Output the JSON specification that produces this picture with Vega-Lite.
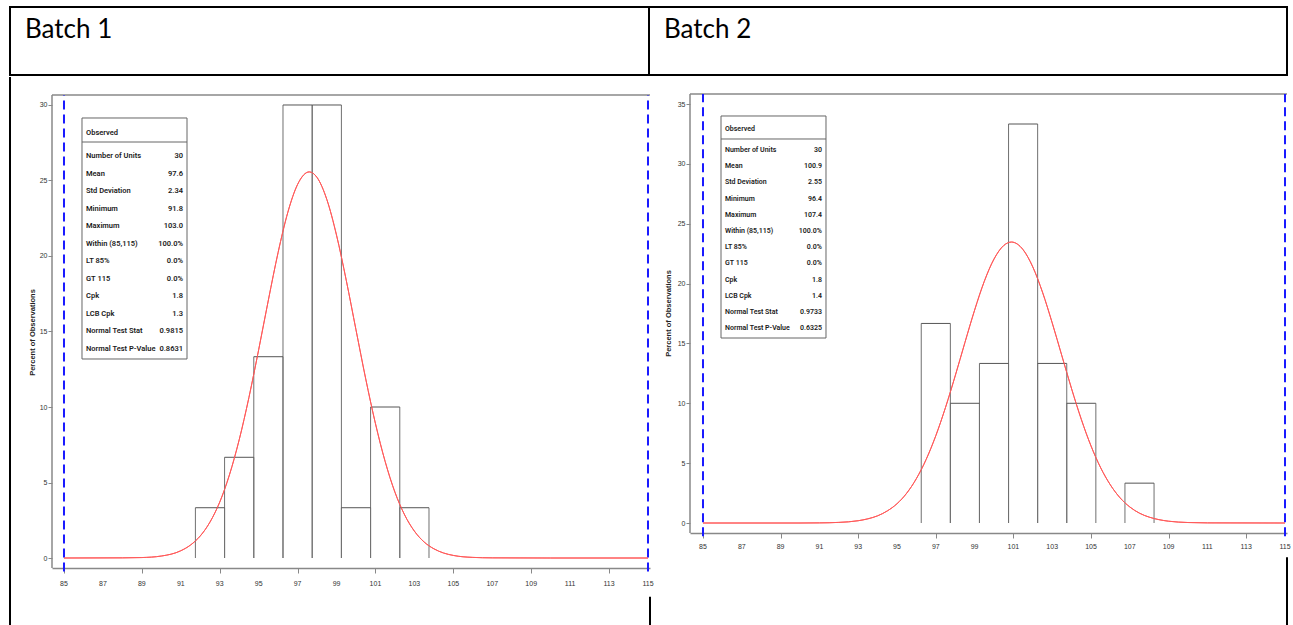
{
  "$schema": "https://vega.github.io/schema/vega-lite/v6.json",
  "padding": {"left": 9, "top": 6, "right": 0, "bottom": 0},
  "autosize": {"type": "pad"},
  "background": "white",
  "bounds": "full",
  "spacing": 0,
  "config": {
    "view": {"stroke": null},
    "axis": {"labelFont": "Liberation Sans", "titleFont": "Liberation Sans", "labelOverlap": false, "labelFlush": false}
  },
  "datasets": {
    "hist1": [
      {"start": 91.75, "end": 93.25, "pct": 3.33},
      {"start": 93.25, "end": 94.75, "pct": 6.67},
      {"start": 94.75, "end": 96.25, "pct": 13.33},
      {"start": 96.25, "end": 97.75, "pct": 30},
      {"start": 97.75, "end": 99.25, "pct": 30},
      {"start": 99.25, "end": 100.75, "pct": 3.33},
      {"start": 100.75, "end": 102.25, "pct": 10},
      {"start": 102.25, "end": 103.75, "pct": 3.33}
    ],
    "hist2": [
      {"start": 96.25, "end": 97.75, "pct": 16.67},
      {"start": 97.75, "end": 99.25, "pct": 10},
      {"start": 99.25, "end": 100.75, "pct": 13.33},
      {"start": 100.75, "end": 102.25, "pct": 33.33},
      {"start": 102.25, "end": 103.75, "pct": 13.33},
      {"start": 103.75, "end": 105.25, "pct": 10},
      {"start": 106.75, "end": 108.25, "pct": 3.33}
    ],
    "curve1": [
      {"x": 85, "y": 0}, {"x": 88, "y": 0.01}, {"x": 89, "y": 0.03}, {"x": 90, "y": 0.13},
      {"x": 91, "y": 0.48}, {"x": 91.5, "y": 0.86}, {"x": 92, "y": 1.46}, {"x": 92.5, "y": 2.38},
      {"x": 93, "y": 3.7}, {"x": 93.5, "y": 5.51}, {"x": 94, "y": 7.83}, {"x": 94.5, "y": 10.63},
      {"x": 95, "y": 13.79}, {"x": 95.5, "y": 17.09}, {"x": 96, "y": 20.24}, {"x": 96.5, "y": 22.9},
      {"x": 97, "y": 24.74}, {"x": 97.6, "y": 25.57}, {"x": 98, "y": 25.2}, {"x": 98.5, "y": 23.75},
      {"x": 99, "y": 21.38}, {"x": 99.5, "y": 18.39}, {"x": 100, "y": 15.11}, {"x": 100.5, "y": 11.86},
      {"x": 101, "y": 8.9}, {"x": 101.5, "y": 6.38}, {"x": 102, "y": 4.36}, {"x": 102.5, "y": 2.85},
      {"x": 103, "y": 1.78}, {"x": 103.5, "y": 1.06}, {"x": 104, "y": 0.61}, {"x": 104.5, "y": 0.33},
      {"x": 105, "y": 0.17}, {"x": 106, "y": 0.04}, {"x": 107, "y": 0.01}, {"x": 110, "y": 0}, {"x": 115, "y": 0}
    ],
    "curve2": [
      {"x": 85, "y": 0}, {"x": 90, "y": 0}, {"x": 91, "y": 0.01}, {"x": 92, "y": 0.05},
      {"x": 93, "y": 0.19}, {"x": 93.5, "y": 0.35}, {"x": 94, "y": 0.6}, {"x": 94.5, "y": 1.01},
      {"x": 95, "y": 1.61}, {"x": 95.5, "y": 2.49}, {"x": 96, "y": 3.71}, {"x": 96.5, "y": 5.3},
      {"x": 97, "y": 7.29}, {"x": 97.5, "y": 9.65}, {"x": 98, "y": 12.29}, {"x": 98.5, "y": 15.07},
      {"x": 99, "y": 17.78}, {"x": 99.5, "y": 20.19}, {"x": 100, "y": 22.05}, {"x": 100.5, "y": 23.18},
      {"x": 100.9, "y": 23.47}, {"x": 101.5, "y": 22.83}, {"x": 102, "y": 21.39}, {"x": 102.5, "y": 19.28},
      {"x": 103, "y": 16.72}, {"x": 103.5, "y": 13.96}, {"x": 104, "y": 11.21}, {"x": 104.5, "y": 8.66},
      {"x": 105, "y": 6.44}, {"x": 105.5, "y": 4.61}, {"x": 106, "y": 3.18}, {"x": 106.5, "y": 2.1},
      {"x": 107, "y": 1.34}, {"x": 107.5, "y": 0.82}, {"x": 108, "y": 0.49}, {"x": 108.5, "y": 0.28},
      {"x": 109, "y": 0.15}, {"x": 110, "y": 0.04}, {"x": 111, "y": 0.01}, {"x": 115, "y": 0}
    ],
    "ticks": [
      {"t": 85}, {"t": 87}, {"t": 89}, {"t": 91}, {"t": 93}, {"t": 95}, {"t": 97}, {"t": 99},
      {"t": 101}, {"t": 103}, {"t": 105}, {"t": 107}, {"t": 109}, {"t": 111}, {"t": 113}, {"t": 115}
    ],
    "limits": [{"limit": 85}, {"limit": 115}],
    "stats1": [
      {"i": 1, "label": "Number of Units", "value": "30"},
      {"i": 2, "label": "Mean", "value": "97.6"},
      {"i": 3, "label": "Std Deviation", "value": "2.34"},
      {"i": 4, "label": "Minimum", "value": "91.8"},
      {"i": 5, "label": "Maximum", "value": "103.0"},
      {"i": 6, "label": "Within (85,115)", "value": "100.0%"},
      {"i": 7, "label": "LT 85%", "value": "0.0%"},
      {"i": 8, "label": "GT 115", "value": "0.0%"},
      {"i": 9, "label": "Cpk", "value": "1.8"},
      {"i": 10, "label": "LCB Cpk", "value": "1.3"},
      {"i": 11, "label": "Normal Test Stat", "value": "0.9815"},
      {"i": 12, "label": "Normal Test P-Value", "value": "0.8631"}
    ],
    "stats2": [
      {"i": 1, "label": "Number of Units", "value": "30"},
      {"i": 2, "label": "Mean", "value": "100.9"},
      {"i": 3, "label": "Std Deviation", "value": "2.55"},
      {"i": 4, "label": "Minimum", "value": "96.4"},
      {"i": 5, "label": "Maximum", "value": "107.4"},
      {"i": 6, "label": "Within (85,115)", "value": "100.0%"},
      {"i": 7, "label": "LT 85%", "value": "0.0%"},
      {"i": 8, "label": "GT 115", "value": "0.0%"},
      {"i": 9, "label": "Cpk", "value": "1.8"},
      {"i": 10, "label": "LCB Cpk", "value": "1.4"},
      {"i": 11, "label": "Normal Test Stat", "value": "0.9733"},
      {"i": 12, "label": "Normal Test P-Value", "value": "0.6325"}
    ]
  },
  "vconcat": [
    {
      "spacing": 0,
      "bounds": "flush",
      "hconcat": [
        {
          "width": 639, "height": 68,
          "view": {"stroke": "black", "strokeWidth": 2},
          "title": {"text": "Batch 1", "anchor": "start", "frame": "group", "font": "Lato", "fontSize": 26, "fontWeight": "normal", "color": "black", "baseline": "alphabetic", "offset": -57, "dx": 15},
          "data": {"values": [{}]},
          "mark": {"type": "point", "opacity": 0}
        },
        {
          "width": 638, "height": 68,
          "view": {"stroke": "black", "strokeWidth": 2},
          "title": {"text": "Batch 2", "anchor": "start", "frame": "group", "font": "Lato", "fontSize": 26, "fontWeight": "normal", "color": "black", "baseline": "alphabetic", "offset": -57, "dx": 15},
          "data": {"values": [{}]},
          "mark": {"type": "point", "opacity": 0}
        }
      ]
    },
    {
      "spacing": 0,
      "bounds": "flush",
      "hconcat": [
        {
          "width": 42, "height": 550,
          "data": {"values": [{}]},
          "mark": {"type": "rule", "color": "black", "strokeWidth": 2},
          "encoding": {"x": {"datum": 0, "type": "quantitative", "scale": {"domain": [0, 1]}, "axis": null}}
        },
        {
          "width": 598, "height": 491,
          "resolve": {"scale": {"y": "independent"}},
          "layer": [
            {
              "layer": [
                {
                  "data": {"name": "curve1"},
                  "mark": {"type": "line", "color": "#ff5a5a", "strokeWidth": 1, "interpolate": "monotone"},
                  "encoding": {
                    "x": {"field": "x", "type": "quantitative", "scale": {"domain": [84.384, 115.103], "nice": false, "zero": false},
                      "axis": {"title": null, "values": [85, 87, 89, 91, 93, 95, 97, 99, 101, 103, 105, 107, 109, 111, 113, 115], "labels": false, "grid": false, "domainColor": "#888", "domainWidth": 1.5, "tickColor": "#888", "tickSize": 5}},
                    "y": {"field": "y", "type": "quantitative", "scale": {"domain": [-0.662, 31.854], "nice": false, "zero": false},
                      "axis": {"title": "Percent of Observations", "values": [0, 5, 10, 15, 20, 25, 30], "labelOverlap": false, "grid": false, "domain": false, "tickColor": "#888", "tickSize": 4, "labelFontSize": 7, "labelColor": "#333", "labelPadding": 1, "titleFontSize": 7.5, "titleFontWeight": "bold", "titleColor": "#222", "titleX": -16, "titleY": 255}}
                  }
                },
                {
                  "data": {"name": "ticks"},
                  "mark": {"type": "text", "font": "Liberation Sans", "fontSize": 7, "color": "#333", "baseline": "middle", "align": "center"},
                  "encoding": {"x": {"field": "t", "type": "quantitative"}, "y": {"datum": -1.722, "type": "quantitative"}, "text": {"field": "t", "type": "quantitative"}}
                },
                {
                  "data": {"values": [{}]},
                  "mark": {"type": "rule", "color": "#888", "strokeWidth": 1.5},
                  "encoding": {"x": {"datum": 84.384, "type": "quantitative"}, "x2": {"datum": 115.103}, "y": {"datum": 30.662, "type": "quantitative"}}
                },
                {
                  "data": {"values": [{}]},
                  "mark": {"type": "rule", "color": "#888", "strokeWidth": 1.5},
                  "encoding": {"x": {"datum": 84.384, "type": "quantitative"}, "y": {"datum": -0.662, "type": "quantitative"}, "y2": {"datum": 30.662}}
                },
                {
                  "data": {"name": "limits"},
                  "mark": {"type": "rule", "color": "#1a1aff", "strokeWidth": 2, "strokeDash": [9, 5]},
                  "encoding": {"x": {"field": "limit", "type": "quantitative"}, "y": {"datum": -0.9, "type": "quantitative"}, "y2": {"datum": 30.662}}
                },
                {
                  "data": {"name": "hist1"},
                  "mark": {"type": "rule", "color": "#707070", "strokeWidth": 1},
                  "encoding": {"x": {"field": "start", "type": "quantitative"}, "y": {"field": "pct", "type": "quantitative"}, "y2": {"datum": 0}}
                },
                {
                  "data": {"name": "hist1"},
                  "mark": {"type": "rule", "color": "#707070", "strokeWidth": 1},
                  "encoding": {"x": {"field": "end", "type": "quantitative"}, "y": {"field": "pct", "type": "quantitative"}, "y2": {"datum": 0}}
                },
                {
                  "data": {"name": "hist1"},
                  "mark": {"type": "rule", "color": "#555", "strokeWidth": 1},
                  "encoding": {"x": {"field": "start", "type": "quantitative"}, "x2": {"field": "end"}, "y": {"field": "pct", "type": "quantitative"}}
                },
                {
                  "data": {"name": "curve1"},
                  "mark": {"type": "line", "color": "#ff5a5a", "strokeWidth": 1, "interpolate": "monotone"},
                  "encoding": {"x": {"field": "x", "type": "quantitative"}, "y": {"field": "y", "type": "quantitative"}}
                },
                {
                  "data": {"values": [{}]},
                  "mark": {"type": "rect", "fill": "white", "stroke": "#666", "strokeWidth": 1},
                  "encoding": {"x": {"datum": 85.925, "type": "quantitative"}, "x2": {"datum": 91.319}, "y": {"datum": 29.139, "type": "quantitative"}, "y2": {"datum": 13.179}}
                },
                {
                  "data": {"values": [{}]},
                  "mark": {"type": "rule", "color": "#666", "strokeWidth": 1},
                  "encoding": {"x": {"datum": 85.925, "type": "quantitative"}, "x2": {"datum": 91.319}, "y": {"datum": 27.549, "type": "quantitative"}}
                },
                {
                  "data": {"values": [{}]},
                  "mark": {"type": "text", "text": "Observed", "align": "left", "baseline": "middle", "font": "Roboto", "fontSize": 7.5, "fontWeight": 600, "color": "#1a1a1a"},
                  "encoding": {"x": {"datum": 86.131, "type": "quantitative"}, "y": {"datum": 28.145, "type": "quantitative"}}
                }
              ]
            },
            {
              "data": {"name": "stats1"},
              "layer": [
                {
                  "mark": {"type": "text", "align": "left", "baseline": "middle", "font": "Roboto", "fontSize": 7.5, "fontWeight": 600, "color": "#1a1a1a"},
                  "encoding": {
                    "x": {"datum": 86.131, "type": "quantitative", "scale": {"domain": [84.384, 115.103], "nice": false, "zero": false}},
                    "y": {"field": "i", "type": "quantitative", "scale": {"domain": [-3.509, 24.516], "reverse": true, "nice": false, "zero": false}, "axis": null},
                    "text": {"field": "label", "type": "nominal"}
                  }
                },
                {
                  "mark": {"type": "text", "align": "right", "baseline": "middle", "font": "Roboto", "fontSize": 7.5, "fontWeight": 600, "color": "#1a1a1a"},
                  "encoding": {
                    "x": {"datum": 91.113, "type": "quantitative", "scale": {"domain": [84.384, 115.103], "nice": false, "zero": false}},
                    "y": {"field": "i", "type": "quantitative", "scale": {"domain": [-3.509, 24.516], "reverse": true, "nice": false, "zero": false}, "axis": null},
                    "text": {"field": "value", "type": "nominal"}
                  }
                }
              ]
            }
          ]
        },
        {
          "width": 40, "height": 550,
          "data": {"values": [{}]},
          "mark": {"type": "rule", "color": "black", "strokeWidth": 2},
          "encoding": {
            "x": {"datum": 0, "type": "quantitative", "scale": {"domain": [0, 1]}, "axis": null},
            "y": {"datum": 0, "type": "quantitative", "scale": {"domain": [0, 1]}, "axis": null},
            "y2": {"datum": 0.055}
          }
        },
        {
          "width": 597, "height": 456,
          "resolve": {"scale": {"y": "independent"}},
          "layer": [
            {
              "layer": [
                {
                  "data": {"name": "curve2"},
                  "mark": {"type": "line", "color": "#ff5a5a", "strokeWidth": 1, "interpolate": "monotone"},
                  "encoding": {
                    "x": {"field": "x", "type": "quantitative", "scale": {"domain": [84.33, 115.103], "nice": false, "zero": false},
                      "axis": {"title": null, "values": [85, 87, 89, 91, 93, 95, 97, 99, 101, 103, 105, 107, 109, 111, 113, 115], "labels": false, "grid": false, "domainColor": "#888", "domainWidth": 1.5, "tickColor": "#888", "tickSize": 5}},
                    "y": {"field": "y", "type": "quantitative", "scale": {"domain": [-0.835, 37.257], "nice": false, "zero": false},
                      "axis": {"title": "Percent of Observations", "values": [0, 5, 10, 15, 20, 25, 30, 35], "labelOverlap": false, "grid": false, "domain": false, "tickColor": "#888", "tickSize": 4, "labelFontSize": 7, "labelColor": "#333", "labelPadding": 1, "titleFontSize": 7.5, "titleFontWeight": "bold", "titleColor": "#222", "titleX": -18, "titleY": 236}}
                  }
                },
                {
                  "data": {"name": "ticks"},
                  "mark": {"type": "text", "font": "Liberation Sans", "fontSize": 7, "color": "#333", "baseline": "middle", "align": "center"},
                  "encoding": {"x": {"field": "t", "type": "quantitative"}, "y": {"datum": -2.005, "type": "quantitative"}, "text": {"field": "t", "type": "quantitative"}}
                },
                {
                  "data": {"values": [{}]},
                  "mark": {"type": "rule", "color": "#888", "strokeWidth": 1.5},
                  "encoding": {"x": {"datum": 84.33, "type": "quantitative"}, "x2": {"datum": 115.103}, "y": {"datum": 35.837, "type": "quantitative"}}
                },
                {
                  "data": {"values": [{}]},
                  "mark": {"type": "rule", "color": "#888", "strokeWidth": 1.5},
                  "encoding": {"x": {"datum": 84.33, "type": "quantitative"}, "y": {"datum": -0.835, "type": "quantitative"}, "y2": {"datum": 35.837}}
                },
                {
                  "data": {"name": "limits"},
                  "mark": {"type": "rule", "color": "#1a1aff", "strokeWidth": 2, "strokeDash": [9, 5]},
                  "encoding": {"x": {"field": "limit", "type": "quantitative"}, "y": {"datum": -1.1, "type": "quantitative"}, "y2": {"datum": 35.837}}
                },
                {
                  "data": {"name": "hist2"},
                  "mark": {"type": "rule", "color": "#707070", "strokeWidth": 1},
                  "encoding": {"x": {"field": "start", "type": "quantitative"}, "y": {"field": "pct", "type": "quantitative"}, "y2": {"datum": 0}}
                },
                {
                  "data": {"name": "hist2"},
                  "mark": {"type": "rule", "color": "#707070", "strokeWidth": 1},
                  "encoding": {"x": {"field": "end", "type": "quantitative"}, "y": {"field": "pct", "type": "quantitative"}, "y2": {"datum": 0}}
                },
                {
                  "data": {"name": "hist2"},
                  "mark": {"type": "rule", "color": "#555", "strokeWidth": 1},
                  "encoding": {"x": {"field": "start", "type": "quantitative"}, "x2": {"field": "end"}, "y": {"field": "pct", "type": "quantitative"}}
                },
                {
                  "data": {"name": "curve2"},
                  "mark": {"type": "line", "color": "#ff5a5a", "strokeWidth": 1, "interpolate": "monotone"},
                  "encoding": {"x": {"field": "x", "type": "quantitative"}, "y": {"field": "y", "type": "quantitative"}}
                },
                {
                  "data": {"values": [{}]},
                  "mark": {"type": "rect", "fill": "white", "stroke": "#666", "strokeWidth": 1},
                  "encoding": {"x": {"datum": 85.928, "type": "quantitative"}, "x2": {"datum": 91.34}, "y": {"datum": 34.0, "type": "quantitative"}, "y2": {"datum": 15.454}}
                },
                {
                  "data": {"values": [{}]},
                  "mark": {"type": "rule", "color": "#666", "strokeWidth": 1},
                  "encoding": {"x": {"datum": 85.928, "type": "quantitative"}, "x2": {"datum": 91.34}, "y": {"datum": 32.078, "type": "quantitative"}}
                },
                {
                  "data": {"values": [{}]},
                  "mark": {"type": "text", "text": "Observed", "align": "left", "baseline": "middle", "font": "Roboto", "fontSize": 7, "fontWeight": 600, "color": "#1a1a1a"},
                  "encoding": {"x": {"datum": 86.134, "type": "quantitative"}, "y": {"datum": 32.913, "type": "quantitative"}}
                }
              ]
            },
            {
              "data": {"name": "stats2"},
              "layer": [
                {
                  "mark": {"type": "text", "align": "left", "baseline": "middle", "font": "Roboto", "fontSize": 7, "fontWeight": 600, "color": "#1a1a1a"},
                  "encoding": {
                    "x": {"datum": 86.134, "type": "quantitative", "scale": {"domain": [84.33, 115.103], "nice": false, "zero": false}},
                    "y": {"field": "i", "type": "quantitative", "scale": {"domain": [-3.506, 24.642], "reverse": true, "nice": false, "zero": false}, "axis": null},
                    "text": {"field": "label", "type": "nominal"}
                  }
                },
                {
                  "mark": {"type": "text", "align": "right", "baseline": "middle", "font": "Roboto", "fontSize": 7, "fontWeight": 600, "color": "#1a1a1a"},
                  "encoding": {
                    "x": {"datum": 91.134, "type": "quantitative", "scale": {"domain": [84.33, 115.103], "nice": false, "zero": false}},
                    "y": {"field": "i", "type": "quantitative", "scale": {"domain": [-3.506, 24.642], "reverse": true, "nice": false, "zero": false}, "axis": null},
                    "text": {"field": "value", "type": "nominal"}
                  }
                }
              ]
            }
          ]
        },
        {
          "width": 6, "height": 550,
          "data": {"values": [{}]},
          "mark": {"type": "rule", "color": "black", "strokeWidth": 2},
          "encoding": {
            "x": {"datum": 0, "type": "quantitative", "scale": {"domain": [0, 1]}, "axis": null},
            "y": {"datum": 0, "type": "quantitative", "scale": {"domain": [0, 1]}, "axis": null},
            "y2": {"datum": 0.127}
          }
        }
      ]
    }
  ]
}
